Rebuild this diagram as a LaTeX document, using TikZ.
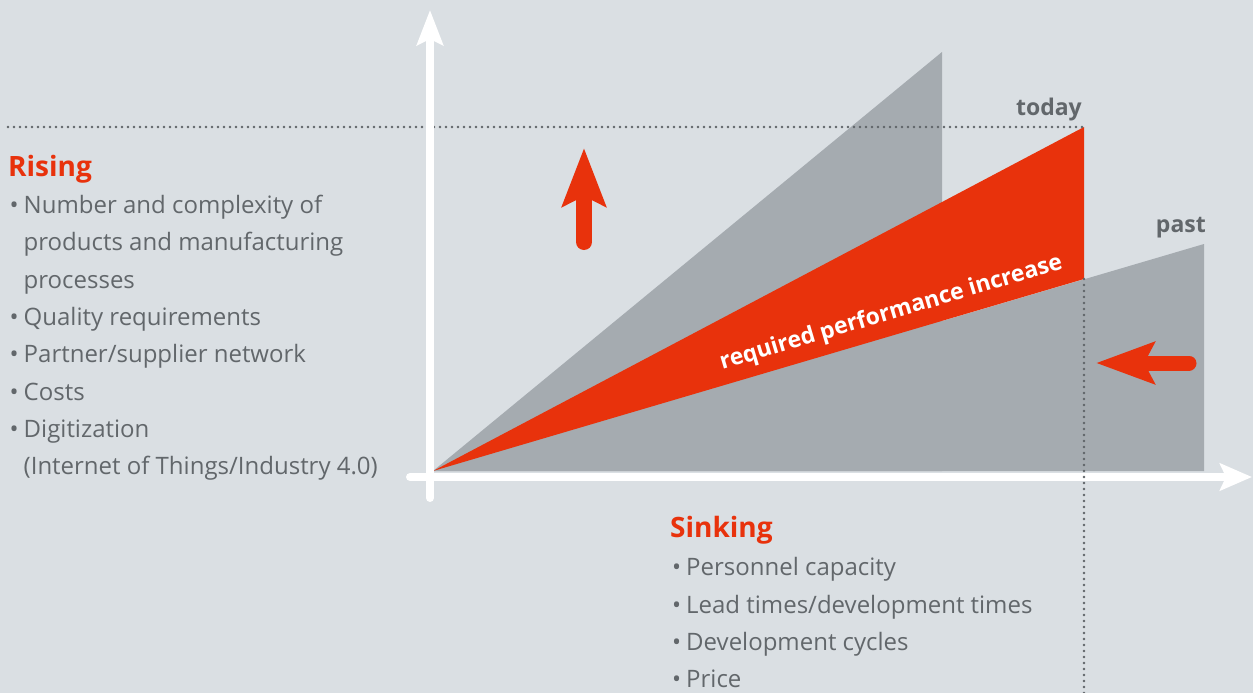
\documentclass[tikz,border=0pt]{standalone}
\usepackage{fontspec}
\setmainfont{Open Sans}
\usetikzlibrary{arrows.meta}
\definecolor{bgc}{HTML}{DADFE3}
\definecolor{areac}{HTML}{A5ABB0}
\definecolor{hot}{HTML}{E8320C}
\definecolor{ink}{HTML}{62676B}
\definecolor{dotc}{HTML}{5F6468}
\begin{document}
\begin{tikzpicture}[x=1pt,y=-1pt,
  item/.style={anchor=base west, inner sep=0pt, text=ink, font=\fontsize{24}{28}\selectfont},
  headline/.style={anchor=base west, inner sep=0pt, text=hot, font=\fontsize{28}{32}\selectfont\bfseries},
  tag/.style={anchor=base east, inner sep=0pt, text=ink, font=\fontsize{23}{27}\selectfont\bfseries},
  dotline/.style={draw=dotc, line width=2.6pt, line cap=round, dash pattern=on 0pt off 6pt},
  axisline/.style={draw=white, line width=8pt, line cap=round},
  bigarrow/.style={draw=hot, line width=16pt, line cap=round}
]
\useasboundingbox (0,0) rectangle (1253,693);
\fill[bgc] (0,0) rectangle (1253,693);

% areas
\coordinate (O) at (433,471);
\coordinate (g1top) at (942,52);
\coordinate (g1bot) at (942,471);
\coordinate (g2top) at (1204,244);
\coordinate (g2bot) at (1204,471);
\coordinate (rtop) at (1084,127);
\coordinate (rbot) at (1084,279);
\fill[areac] (O) -- (g1top) -- (g1bot) -- cycle;
\fill[areac] (O) -- (g2top) -- (g2bot) -- cycle;
\fill[hot] (O) -- (rtop) -- (rbot) -- cycle;

% horizontal dotted guide
\coordinate (hleft) at (8,127);
\draw[dotline] (hleft) -- (rtop);

% axes
\coordinate (ybot) at (430,498);
\coordinate (ytop) at (430,10);
\coordinate (xleft) at (410,477);
\coordinate (xright) at (1252,477);
\draw[axisline, -{Stealth[length=35pt,width=26pt,inset=6pt]}] (ybot) -- (ytop);
\draw[axisline, -{Stealth[length=32pt,width=27pt,inset=6pt]}] (xleft) -- (xright);

% vertical dotted guide
\coordinate (vbot) at (1084,693);
\draw[dotline] (rbot) -- (vbot);

% red arrows
\coordinate (upA) at (584,242);
\coordinate (upB) at (584,148);
\draw[bigarrow, -{Stealth[length=58pt,width=43pt,inset=10pt]}] (upA) -- (upB);
\coordinate (lfA) at (1189,363);
\coordinate (lfB) at (1096,363);
\draw[bigarrow, line width=15pt, -{Stealth[length=58pt,width=41pt,inset=10pt]}] (lfA) -- (lfB);

% labels
\node[tag] (today) at (1082,115) {today};
\node[tag] (past) at (1206,232) {past};
\node[anchor=base, inner sep=0pt, text=white, rotate=16.6, font=\fontsize{23}{27}\selectfont\bfseries] (perf) at (893,319) {required performance increase};

\node[headline] (rising) at (8,176) {Rising};
\node[item] (r1) at (9.5,213) {•\hspace{5pt}Number and complexity of};
\node[item] (r1b) at (23.5,250) {products and manufacturing};
\node[item] (r1c) at (23.5,288) {processes};
\node[item] (r2) at (9.5,325) {•\hspace{5pt}Quality requirements};
\node[item] (r3) at (9.5,362) {•\hspace{5pt}Partner/supplier network};
\node[item] (r4) at (9.5,400) {•\hspace{5pt}Costs};
\node[item] (r5) at (9.5,437) {•\hspace{5pt}Digitization};
\node[item] (r5b) at (23.5,474) {(Internet of Things/Industry 4.0)};

\node[headline] (sinking) at (670,537) {Sinking};
\node[item] (s1) at (672,575) {•\hspace{5pt}Personnel capacity};
\node[item] (s2) at (672,613) {•\hspace{5pt}Lead times/development times};
\node[item] (s3) at (672,650) {•\hspace{5pt}Development cycles};
\node[item] (s4) at (672,687) {•\hspace{5pt}Price};
\end{tikzpicture}
\end{document}
